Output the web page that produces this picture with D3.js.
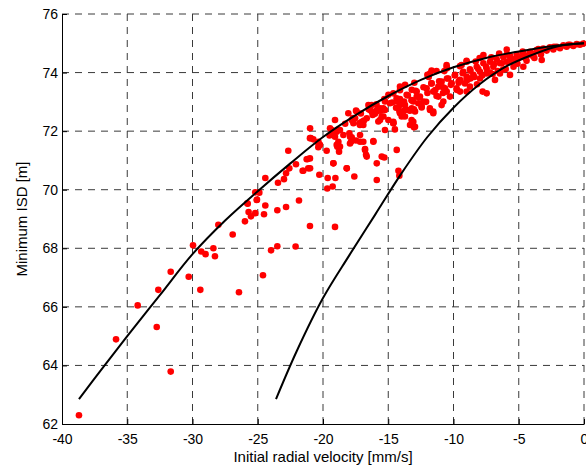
<!DOCTYPE html>
<html lang="en">
<head>
<meta charset="UTF-8">
<title>Minimum ISD vs initial radial velocity</title>
<script src="https://d3js.org/d3.v7.min.js"></script>
<style>
  body { margin: 0; background: #fff; }
  svg { display: block; font-family: "Liberation Sans", Arial, sans-serif; }
  .grid line { stroke: #3a3a3a; stroke-width: 1; stroke-dasharray: 7,6; }
  .axis path, .axis line { stroke: #000; stroke-width: 1; }
  .axis text { font-size: 14px; fill: #000; }
</style>
</head>
<body>
<svg id="chart" width="586" height="466"></svg>
<script>
// tick values
const xTicks = [-40, -35, -30, -25, -20, -15, -10, -5, 0];
const yTicks = [62, 64, 66, 68, 70, 72, 74, 76];

// upper boundary curve
const upperVel = [-38.7, -37.0, -35.0, -32.5, -30.0, -27.5, -25.0, -22.5, -20.0, -17.5, -15.0, -12.5, -10.0, -7.5, -5.0, -2.5, 0];
const upperIsd = [62.85, 63.85, 65.0, 66.4, 67.8, 68.95, 69.95, 70.9, 71.8, 72.55, 73.2, 73.75, 74.18, 74.5, 74.72, 74.9, 75.0];

// lower boundary curve
const lowerVel = [-23.6, -22.0, -20.0, -18.0, -16.0, -14.0, -12.0, -10.0, -8.0, -6.0, -4.0, -2.0, 0];
const lowerIsd = [62.85, 64.5, 66.3, 67.75, 69.15, 70.55, 71.8, 72.8, 73.6, 74.2, 74.6, 74.9, 75.0];

// simulated runs: initial radial velocity [mm/s]
const runVel = [
  -38.7, -35.86, -34.2, -32.74, -32.62, -31.67, -31.67, -30.29, -29.96, -29.4, -29.33, -29.0, -28.4, -28.28, -28.02,
  -26.92, -26.44, -25.98, -25.8, -25.7, -25.52, -25.19, -25.08, -24.88, -24.6, -24.52, -24.42, -23.98, -23.5, -23.5,
  -23.45, -24.42, -22.66, -21.0, -21.0, -21.13, -22.07, -22.58, -22.83, -22.99, -21.56, -25.19, -25.06, -25.77, -22.83,
  -21.84, -21.0, -22.1, -19.08,
  -18.06, -17.42, -17.8, -17.54, -17.67, -17.98, -17.8, -17.47, -17.16, -17.16, -16.91, -17.16, -16.86, -16.65, -16.27,
  -15.88, -15.63, -15.37, -15.25, -14.61, -13.97, -13.97, -13.79, -13.46, -13.2, -13.08, -12.95, -14.1, -13.71, -13.2,
  -12.82, -14.61, -15.25, -14.99, -19.08, -19.46, -18.95, -18.82, -18.95, -18.7, -18.77, -20.99, -20.94, -20.35, -20.23,
  -19.72, -21.17, -20.99, -20.28, -19.64, -19.67, -19.26, -19.05, -19.21, -18.18, -17.6, -16.78, -16.7, -16.14, -15.88,
  -15.88, -15.3, -14.35, -14.22, -14.15, -18.44, -18.7, -19.08, -17.85, -21.51, -20.36, -20.74, -20.35, -19.33, -19.2,
  -18.9, -17.93, -17.93, -17.21, -17.03, -16.91, -16.78, -16.65, -16.52, -16.27, -15.89, -15.63, -15.25, -16.14, -15.5,
  -21.25, -19.2, -18.18, -17.47, -16.4, -15.76, -16.02, -17.17,
  -15.38, -14.87, -14.36, -14.1, -13.59, -13.21, -12.82, -12.57, -12.06, -11.67, -11.55, -11.16, -10.91, -10.65, -10.4,
  -10.14, -9.88, -9.5, -9.25, -8.99, -8.74, -8.48, -8.22, -7.97, -7.71, -7.46, -7.2, -6.95, -6.69, -6.44,
  -6.18, -5.92, -5.67, -5.42, -5.16, -4.9, -4.65, -4.39, -4.14, -3.88, -3.63, -3.37, -3.12, -2.86, -2.61,
  -2.35, -2.09, -1.84, -1.58, -1.33, -1.07, -0.82, -0.56, -0.31, -0.05,
  -11.8, -10.52, -7.71, -5.92, -8.99,
  -14.61, -15.5, -14.99, -14.1, -13.72, -13.21, -12.95, -12.44, -11.8, -11.55, -12.31, -13.08, -13.72, -13.33, -10.52,
  -9.76, -9.5, -8.99, -8.74, -9.12, -7.97, -6.82, -5.67, -4.65, -3.24, -7.46, -7.77, -11.16, -10.27, -10.91,
  -7.46, -6.44,
  -14.36, -14.15, -13.9, -13.34, -13.03, -12.44, -11.81, -11.55, -13.21, -13.03, -14.61, -13.72, -10.78, -9.76, -8.94,
  -10.53, -11.68, -9.38, -14.49,
  -8.2, -7.0, -6.2, -5.1, -4.4, -3.8, -8.7, -9.6, -10.8, -11.3, -12.1, -12.7,
  -14.7, -14.1, -13.5, -12.9, -12.3, -11.7, -11.1, -10.5, -9.9, -9.3, -8.7, -8.1, -7.5, -6.9, -6.3,
  -5.7, -5.1, -4.5, -3.9, -3.3,
  -14.4, -13.8, -13.2, -12.6, -12.0, -11.4, -10.8, -10.2, -9.6, -9.0, -8.4, -7.8, -7.2, -6.6, -6.0, -5.4,
  -15.3, -14.1, -13.0, -11.9, -10.7, -9.5, -8.3, -7.1, -5.9, -4.7, -3.5, -2.3, -1.2,
  -19.5, -18.9, -18.3, -17.7, -17.1, -16.5, -15.9, -16.2, -15.6,
  -12.0, -10.5, -9.0, -8.0, -6.5, -11.3
];

// simulated runs: minimum inter-satellite distance [m]
const runIsd = [
  62.3, 64.89, 66.05, 65.31, 66.58, 67.2, 63.79, 67.03, 68.1, 66.58, 67.89, 67.8, 68.0, 67.73, 68.8,
  68.47, 66.5, 68.92, 69.54, 69.24, 69.09, 69.2, 69.65, 69.9, 67.08, 69.16, 69.46, 67.93, 68.07, 69.3,
  70.24, 70.4, 71.33, 71.76, 71.07, 70.73, 70.87, 70.73, 70.56, 70.36, 70.65, 69.91, 69.66, 69.52, 69.41,
  69.63, 68.76, 68.06, 68.73,
  72.61, 72.67, 72.38, 72.44, 72.27, 71.93, 71.79, 71.68, 71.87, 71.64, 71.64, 72.27, 72.36, 72.44, 72.89,
  72.67, 72.78, 72.5, 72.04, 72.27, 72.5, 72.67, 73.01, 72.72, 72.78, 72.32, 72.15, 73.52, 73.58, 73.41,
  73.18, 73.29, 73.01, 73.24, 72.38, 72.1, 71.98, 71.64, 71.53, 71.47, 71.3, 72.1, 71.76, 71.64, 71.53,
  71.33, 71.05, 70.73, 70.51, 70.4, 70.04, 70.11, 70.4, 70.9, 70.73, 70.45, 71.39, 71.19, 71.66, 70.33,
  70.9, 71.1, 71.36, 70.65, 70.48, 71.87, 72.04, 71.81, 71.64, 70.65, 71.45, 71.72, 71.58, 72.04, 71.87,
  71.47, 71.81, 71.58, 72.27, 72.32, 72.21, 71.36, 71.13, 72.89, 72.67, 72.72, 72.38, 72.72, 71.64, 71.13,
  71.04, 70.9, 70.73, 72.7, 72.72, 72.33, 72.59, 72.21,
  72.78, 72.95, 73.12, 72.89, 73.24, 73.06, 73.35, 73.18, 73.46, 73.63, 73.35, 73.52, 73.69, 73.46, 73.8,
  73.63, 73.92, 73.75, 74.03, 73.86, 74.11, 73.92, 74.2, 74.03, 74.32, 74.14, 74.37, 74.2, 74.45, 74.32,
  74.52, 74.37, 74.57, 74.45, 74.62, 74.52, 74.68, 74.57, 74.71, 74.63, 74.77, 74.7, 74.82, 74.75, 74.86,
  74.79, 74.88, 74.83, 74.93, 74.88, 74.95, 74.91, 74.97, 74.95, 74.99,
  73.97, 74.2, 74.6, 74.79, 74.37,
  72.27, 72.5, 72.38, 72.61, 72.72, 72.75, 72.67, 72.81, 72.72, 72.61, 73.01, 73.01, 72.5, 72.21, 73.35,
  73.46, 73.35, 73.35, 73.52, 73.63, 73.8, 73.75, 73.92, 74.2, 74.43, 73.29, 73.35, 73.18, 73.18, 72.89,
  73.97, 73.97,
  73.01, 72.69, 72.59, 72.7, 72.75, 72.84, 72.78, 72.67, 72.38, 72.13, 72.32, 72.89, 73.01, 73.41, 73.75,
  74.26, 74.07, 74.26, 72.06,
  73.6, 73.95, 74.1, 74.3, 74.4, 74.5, 73.8, 73.65, 73.3, 73.2, 73.0, 72.95,
  72.98, 73.1, 73.22, 73.38, 73.5, 73.63, 73.7, 73.8, 73.9, 73.98, 74.06, 74.12, 74.2, 74.28, 74.32,
  74.4, 74.46, 74.5, 74.56, 74.62,
  72.8, 72.95, 73.05, 73.15, 73.3, 73.4, 73.5, 73.58, 73.7, 73.76, 73.85, 73.9, 74.0, 74.05, 74.12, 74.2,
  73.1, 73.4, 73.65, 73.85, 74.05, 74.22, 74.38, 74.52, 74.62, 74.72, 74.8, 74.88, 74.95,
  71.85, 72.05, 72.25, 72.45, 72.6, 72.75, 72.92, 72.55, 72.7,
  73.92, 74.15, 74.4, 74.5, 74.65, 74.05
];

const svg = d3.select("#chart");
const margin = { top: 14, right: 2, bottom: 42, left: 62 };
const width = +svg.attr("width") - margin.left - margin.right;
const height = +svg.attr("height") - margin.top - margin.bottom;

const x = d3.scaleLinear().domain([-40, 0]).range([0, width]);
const y = d3.scaleLinear().domain([62, 76]).range([height, 0]);

const g = svg.append("g").attr("transform", `translate(${margin.left},${margin.top})`);

// dashed grid
g.append("g").attr("class", "grid")
  .selectAll("line").data(xTicks.filter(d => d !== -40)).join("line")
  .attr("x1", d => x(d)).attr("x2", d => x(d))
  .attr("y1", 0).attr("y2", height);
g.append("g").attr("class", "grid")
  .selectAll("line").data(yTicks.filter(d => d !== 62)).join("line")
  .attr("x1", 0).attr("x2", width)
  .attr("y1", d => y(d)).attr("y2", d => y(d));

// scatter
const runs = runVel.map((v, i) => ({ v: v, isd: runIsd[i] }));
g.append("g").selectAll("circle").data(runs).join("circle")
  .attr("cx", d => x(d.v))
  .attr("cy", d => y(d.isd))
  .attr("r", 3.3)
  .attr("fill", "#ff0000");

// boundary curves
const line = d3.line()
  .x(d => x(d[0]))
  .y(d => y(d[1]))
  .curve(d3.curveCatmullRom);

g.append("path")
  .datum(upperVel.map((v, i) => [v, upperIsd[i]]))
  .attr("d", line)
  .attr("fill", "none").attr("stroke", "#000").attr("stroke-width", 2);
g.append("path")
  .datum(lowerVel.map((v, i) => [v, lowerIsd[i]]))
  .attr("d", line)
  .attr("fill", "none").attr("stroke", "#000").attr("stroke-width", 2);

// axes, ticks pointing inwards
g.append("g").attr("class", "axis")
  .attr("transform", `translate(0,${height})`)
  .call(d3.axisBottom(x).tickValues(xTicks).tickFormat(d => String(d))
    .tickSizeInner(-5).tickSizeOuter(0).tickPadding(10));
g.append("g").attr("class", "axis")
  .call(d3.axisLeft(y).tickValues(yTicks).tickFormat(d => String(d))
    .tickSizeInner(-5).tickSizeOuter(0).tickPadding(4));

// axis titles
svg.append("text")
  .attr("x", margin.left + width / 2)
  .attr("y", 462)
  .attr("text-anchor", "middle")
  .style("font-size", "15px")
  .text("Initial radial velocity [mm/s]");
svg.append("text")
  .attr("transform", `translate(27,${margin.top + height / 2}) rotate(-90)`)
  .attr("text-anchor", "middle")
  .style("font-size", "15px")
  .text("Minimum ISD [m]");
</script>
</body>
</html>
